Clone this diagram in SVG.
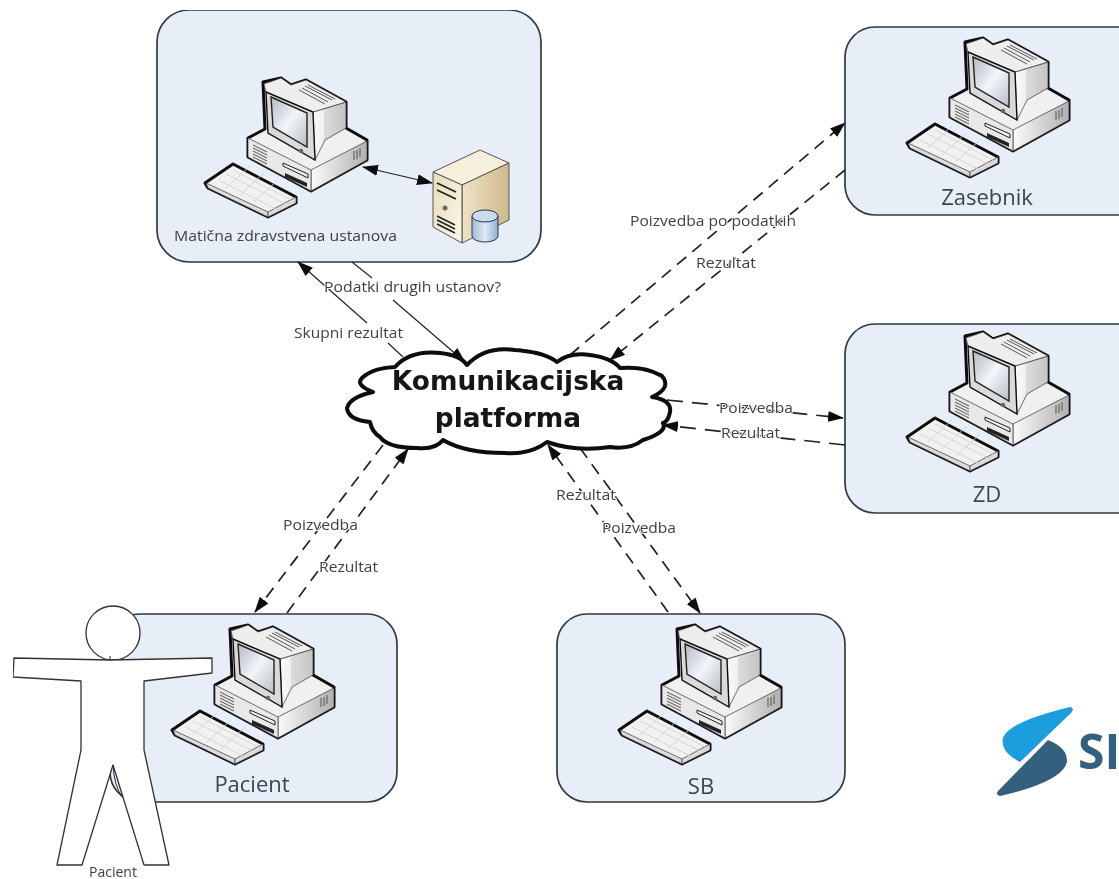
<svg xmlns="http://www.w3.org/2000/svg" xmlns:xlink="http://www.w3.org/1999/xlink" width="1119" height="879" viewBox="0 0 1119 879">
<style>
.box{fill:#e7eef8;stroke:#2f3a40;stroke-width:1.7}
.o{stroke:#0c0c0c;stroke-width:3;stroke-linejoin:round}
.t{stroke:#333;stroke-width:.7;stroke-linejoin:round}
.v{stroke:#555;stroke-width:1;fill:none}
.lbl{font-family:"Open Sans","Liberation Sans",sans-serif;font-size:15px;fill:#3f3f3f;paint-order:stroke;stroke:#fff;stroke-width:2px;stroke-linejoin:round}
.in{stroke:none}
.nm{font-family:"Open Sans","Liberation Sans",sans-serif;font-size:22px;fill:#3a4450;text-anchor:middle}
.cl{font-family:"DejaVu Sans",sans-serif;font-weight:700;font-size:26.4px;fill:#141414;text-anchor:middle}
.s{fill:none;stroke:#222;stroke-width:1.2}
.d{fill:none;stroke:#222;stroke-width:1.7;stroke-dasharray:12 8}
</style>
<defs>
<filter id="soft" x="0" y="0" width="100%" height="100%"><feGaussianBlur stdDeviation="0.5"/></filter>
<linearGradient id="scr" x1="0" y1="0" x2="1" y2="1"><stop offset="0" stop-color="#b4b8c0"/><stop offset=".5" stop-color="#f2f5fa"/><stop offset="1" stop-color="#b9bcc4"/></linearGradient>
<linearGradient id="side" x1="0" y1="0" x2="1" y2="0"><stop offset="0" stop-color="#fafafa"/><stop offset=".32" stop-color="#f0f0f0"/><stop offset=".34" stop-color="#dcdcdc"/><stop offset="1" stop-color="#c4c4c4"/></linearGradient>
<linearGradient id="baser" x1="0" y1="0" x2="1" y2="0"><stop offset="0" stop-color="#fbfbfb"/><stop offset="1" stop-color="#b0b0b0"/></linearGradient>
<linearGradient id="srv" x1="0" y1="0" x2="1" y2="1"><stop offset="0" stop-color="#e9dcb9"/><stop offset="1" stop-color="#fbf7ea"/></linearGradient>
<linearGradient id="srv2" x1="0" y1="0" x2="1" y2="0"><stop offset="0" stop-color="#efe4c6"/><stop offset="1" stop-color="#cdb98a"/></linearGradient>
<linearGradient id="cyl" x1="0" y1="0" x2="1" y2="0"><stop offset="0" stop-color="#9dbcd8"/><stop offset=".5" stop-color="#dfeaf4"/><stop offset="1" stop-color="#8fb0ce"/></linearGradient>
<marker id="a" viewBox="0 0 16 11" refX="15" refY="5.5" markerWidth="16" markerHeight="11" orient="auto-start-reverse" markerUnits="userSpaceOnUse"><path d="M0 0L16 5.5L0 11Z" fill="#111"/></marker>
<g id="pc">
<path class="o" fill="#f0f0f0" d="M75 22L93 18L103 25L118 20L158 42L158 68L179 80L179 100L123 131L60 97L60 78L77 69Z"/>
<path class="t" fill="url(#baser)" d="M123 110L179 81L179 100L123 131Z"/>
<path class="t" fill="#e8e8e8" d="M60 78L123 110L123 131L60 97Z"/>
<path class="t" fill="url(#side)" d="M125 52L158 42L158 68L137 80L127 100Z"/>
<path class="t" fill="#eeeeee" d="M76 24L93 18L103 25L118 20L158 42L125 52L78 32Z"/>
<path fill="#dadada" stroke="#111" stroke-width="1.4" d="M78 32L125 52L127 100L80 73Z"/>
<path fill="url(#scr)" stroke="#222" stroke-width="1.4" d="M83 37L119 53L119 87L85 67Z"/>
<path class="v" stroke-width="1.3" d="M114 28L140 42M117 26L144 40M120 25L147 39M111 30L137 44"/>
<path class="v" d="M65 85L79 92M65 88L79 95M65 91L79 98M65 94L79 101M65 97L79 104"/>
<path fill="#eee" stroke="#222" d="M95 103L120 114V118L95 106Z"/>
<path fill="#222" d="M97 113L119 123V127L97 117Z"/>
<path class="v" stroke="#777" stroke-width="1.4" d="M166 91V100M169 90V99M172 88V97"/>
<circle cx="113" cy="91" r="2.2" fill="#666"/>
<path class="o" fill="#f1f1f1" d="M17 123L45 104L108 137L108 143L80 157L20 128Z"/>
<path class="t" fill="#dcdcdc" d="M18 123L80 152L80 157L20 128Z"/>
<path class="t" fill="#dcdcdc" d="M80 152L108 137L108 143L80 157Z"/>
<path stroke="#d2d2d2" stroke-width=".9" fill="none" d="M30 120L90 150M38 114L98 144M45 110L103 140M38 128L62 106M52 135L76 113M66 142L90 120"/>
</g>
</defs>
<rect width="1119" height="879" fill="#fff"/>
<g filter="url(#soft)">
<g id="node-ustanova">
<rect class="box" x="157" y="10" width="384" height="252" rx="32"/>
<use href="#pc" xlink:href="#pc" x="188" y="60"/>
<g id="server">
<path fill="#f6efdc" stroke="#555" d="M433 172L480 150L509 163L462 185Z"/>
<path fill="url(#srv2)" stroke="#555" d="M462 185L509 163V220L462 243Z"/>
<path fill="url(#srv)" stroke="#555" d="M433 172L462 185V243L433 227Z"/>
<path stroke="#222" stroke-width="1.6" fill="none" d="M437 183L456 192M437 190L456 199M437 216L455 225M437 220L455 229M437 224L455 233"/>
<circle cx="445" cy="208" r="2.5" fill="#7a6a3e"/>
<path fill="url(#cyl)" stroke="#335" d="M472 216V236A13 6 0 0 0 498 236V216Z"/>
<ellipse cx="485" cy="216" rx="13" ry="6" fill="#c9dcec" stroke="#335"/>
</g>
<text class="lbl in" x="174" y="241" textLength="223" lengthAdjust="spacingAndGlyphs">Matična zdravstvena ustanova</text>
</g>
<g id="node-zasebnik">
<rect class="box" x="845" y="27" width="320" height="188" rx="30"/>
<use href="#pc" xlink:href="#pc" x="890" y="20"/>
<text class="nm" x="987" y="205">Zasebnik</text>
</g>
<g id="node-zd">
<rect class="box" x="845" y="324" width="320" height="189" rx="30"/>
<use href="#pc" xlink:href="#pc" x="890" y="314"/>
<text class="nm" x="987" y="502">ZD</text>
</g>
<g id="node-sb">
<rect class="box" x="557" y="614" width="288" height="188" rx="30"/>
<use href="#pc" xlink:href="#pc" x="602" y="607"/>
<text class="nm" x="701" y="794">SB</text>
</g>
<g id="node-pacient">
<rect class="box" x="110" y="614" width="287" height="188" rx="30"/>
<use href="#pc" xlink:href="#pc" x="155" y="607"/>
<text class="nm" x="252" y="792">Pacient</text>
</g>
<g id="connectors">
<path class="s" marker-end="url(#a)" d="M367 323L298 262"/>
<path class="s" d="M403 357L388 343"/>
<path class="s" d="M352 262L372 278"/>
<path class="s" marker-end="url(#a)" d="M393 300L465 362"/>
<path class="s" marker-start="url(#a)" marker-end="url(#a)" d="M363 167L432 183"/>
<path class="d" marker-end="url(#a)" d="M570 355L845 123"/>
<path class="d" marker-end="url(#a)" d="M845 170L610 360"/>
<path class="d" style="stroke-dasharray:16 9" marker-end="url(#a)" d="M667 400L843 418"/>
<path class="d" style="stroke-dasharray:16 9" marker-end="url(#a)" d="M845 445L663 425"/>
<path class="d" marker-end="url(#a)" d="M383 445L255 612"/>
<path class="d" marker-end="url(#a)" d="M287 613L408 449"/>
<path class="d" marker-end="url(#a)" d="M668 612L548 445"/>
<path class="d" marker-end="url(#a)" d="M580 448L700 613"/>
</g>
<g id="node-cloud">
<path fill="#fff" stroke="#0a0a0a" stroke-width="4" stroke-linejoin="round" d="M395 367Q410 350 440 353Q460 355 467 365Q485 346 515 350Q545 352 557 362Q570 352 590 355Q612 358 620 368Q645 366 662 376Q672 388 652 397Q672 400 670 412Q668 422 663 423Q668 432 643 440Q630 450 610 447Q575 452 547 442Q530 455 505 453Q465 453 443 440Q435 450 417 448Q388 448 380 437Q372 432 370 422Q348 420 347 408Q350 397 373 392Q355 385 362 378Q372 368 395 367Z"/>
<text class="cl" x="508" y="390">Komunikacijska</text>
<text class="cl" x="508" y="427">platforma</text>
</g>
<g id="labels">
<text class="lbl" x="324" y="292" textLength="177" lengthAdjust="spacingAndGlyphs">Podatki drugih ustanov?</text>
<text class="lbl" x="294" y="338" textLength="109" lengthAdjust="spacingAndGlyphs">Skupni rezultat</text>
<text class="lbl" x="630" y="226" textLength="166" lengthAdjust="spacingAndGlyphs">Poizvedba po podatkih</text>
<text class="lbl" x="696" y="268" textLength="60" lengthAdjust="spacingAndGlyphs">Rezultat</text>
<text class="lbl" x="719" y="413" textLength="74" lengthAdjust="spacingAndGlyphs">Poizvedba</text>
<text class="lbl" x="721" y="438" textLength="59" lengthAdjust="spacingAndGlyphs">Rezultat</text>
<text class="lbl" x="283" y="530" textLength="75" lengthAdjust="spacingAndGlyphs">Poizvedba</text>
<text class="lbl" x="319" y="572" textLength="59" lengthAdjust="spacingAndGlyphs">Rezultat</text>
<text class="lbl" x="556" y="500" textLength="60" lengthAdjust="spacingAndGlyphs">Rezultat</text>
<text class="lbl" x="602" y="533" textLength="74" lengthAdjust="spacingAndGlyphs">Poizvedba</text>
</g>
<g id="node-person">
<circle cx="113" cy="633" r="27" fill="#fff" stroke="#333" stroke-width="1.3"/>
<path fill="#fff" stroke="#333" stroke-width="1.3" stroke-linejoin="round" d="M110 660L14 658L13 677L81 681V750L57 865H82L113 765L144 865H169L144 750V681L212 673V658Z"/>
<path fill="none" stroke="#333" d="M110 660V656M113 765Q114 785 122 797"/>
<text class="lbl in" x="113" y="877" text-anchor="middle" style="font-size:14px">Pacient</text>
</g>
<g id="logo">
<path fill="#1b9ddc" d="M1070 707Q1075 708 1071 713L1020 762Q1000 752 1003 738Q1008 722 1070 707Z"/>
<path fill="#355e7e" d="M1048 740Q1068 748 1067 762Q1062 782 1000 796Q995 795 998 791Z"/>
<text x="1078" y="769" font-family="'Open Sans','Liberation Sans',sans-serif" font-weight="700" font-size="48" fill="#355e7e">SI</text>
</g>
</g>
</svg>
